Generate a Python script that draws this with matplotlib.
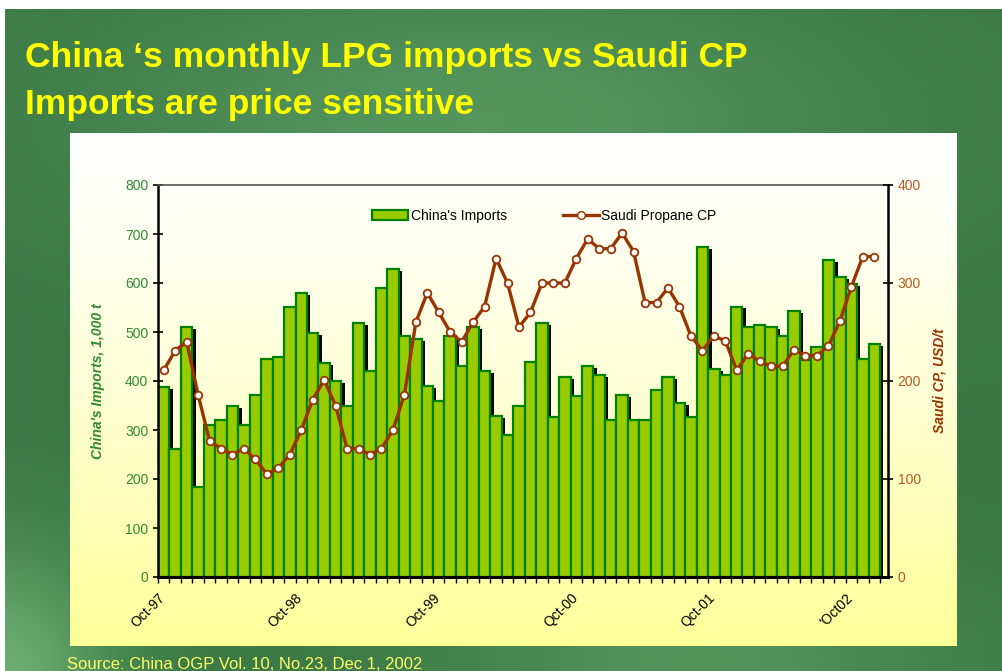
import numpy as np
import matplotlib.pyplot as plt
from matplotlib.lines import Line2D
from matplotlib.patches import Patch

# monthly data, Oct-97 .. Dec-02 (63 months)
imports = [388, 261, 511, 184, 311, 320, 348, 311, 372, 445, 449, 552, 579, 498, 436, 400,
           348, 519, 421, 589, 629, 491, 485, 389, 360, 491, 430, 511, 421, 328, 290, 348,
           438, 519, 326, 408, 370, 430, 413, 320, 372, 320, 320, 381, 408, 356, 326, 673,
           424, 413, 552, 511, 515, 511, 491, 543, 443, 470, 646, 613, 598, 445, 475]
saudi_cp = [211, 231, 240, 186, 139, 131, 125, 131, 120, 105, 111, 125, 150, 181, 201, 175,
            131, 131, 125, 131, 150, 186, 260, 290, 270, 250, 240, 260, 276, 325, 300, 255,
            270, 300, 300, 300, 325, 345, 335, 335, 351, 332, 280, 280, 295, 276, 246, 231,
            246, 241, 211, 228, 220, 215, 215, 232, 226, 226, 236, 261, 296, 327, 327]
tick_months = [0, 12, 24, 36, 48, 60]
tick_labels = ['Oct-97', 'Oct-98', 'Oct-99', 'Qct-00', 'Qct-01', "'Oct02"]

W, H = 1002, 671
fig = plt.figure(figsize=(W / 100, H / 100), dpi=100)
plt.rcParams['font.family'] = ['Liberation Sans', 'DejaVu Sans']

# green slide background
bg = fig.add_axes([0, 0, 1, 1])
yy, xx = np.mgrid[0:H, 0:W]
base = np.array([0.23, 0.47, 0.27])
light = np.array([0.42, 0.68, 0.45])
glow = (0.55 * np.exp(-(((xx - 480) / 380) ** 2 + ((yy - 120) / 140) ** 2))
        + 0.5 * np.exp(-(((xx - 700) / 250) ** 2 + ((yy - 660) / 80) ** 2))
        + 1.0 * np.exp(-(((xx - 0) / 110) ** 2 + ((yy - 680) / 130) ** 2)))
glow = np.clip(glow, 0, 1)[..., None]
img = base * (1 - glow) + light * glow
img[:9, :] = 1.0
img[:, :5] = 1.0
bg.imshow(img, aspect='auto', extent=[0, W, H, 0])
bg.set_xlim(0, W)
bg.set_ylim(H, 0)
bg.axis('off')

# yellow panel
px0, py0, px1, py1 = 70, 133, 957, 646
panel = fig.add_axes([px0 / W, 1 - py1 / H, (px1 - px0) / W, (py1 - py0) / H])
t = np.linspace(0, 1, 256) ** 1.3
grad = np.ones((256, 1, 3))
grad[:, 0, 2] = 1 - 0.4 * t
panel.imshow(grad, aspect='auto', extent=[0, 1, 0, 1], origin='upper')
panel.axis('off')

# titles
fig.text(25 / W, 1 - 67 / H, "China \u2018s monthly LPG imports vs Saudi CP",
         color='#FFFF00', fontsize=25.5, fontweight='bold', va='baseline', ha='left')
fig.text(25 / W, 1 - 114 / H, "Imports are price sensitive",
         color='#FFFF00', fontsize=25.5, fontweight='bold', va='baseline', ha='left')
fig.text(67 / W, 1 - 669 / H, "Source: China OGP Vol. 10, No.23, Dec 1, 2002",
         color='#FFFF66', fontsize=12, va='baseline', ha='left')

# main chart
ax = fig.add_axes([158 / W, 1 - 577 / H, 730 / W, 392 / H])
ax.set_facecolor('none')
x = np.arange(len(imports))
ax.bar(x + 0.3, np.array(imports) - 4, width=1.0, color='black', zorder=1)
ax.bar(x, imports, width=1.0, color='#99CC00', edgecolor='#008000', linewidth=1.6, zorder=2)
ax.set_xlim(-0.5, len(imports) + 0.2)
ax.set_ylim(0, 800)
ax.set_yticks(range(0, 801, 100))
ax.tick_params(axis='y', colors='black', labelcolor='#2E8B2E', direction='inout',
               length=7, width=1.2, labelsize=10)
ax.set_xticks([m - 0.5 for m in tick_months])
ax.set_xticklabels(tick_labels, rotation=45, ha='right', va='top', fontsize=10,
                   rotation_mode='anchor')
ax.set_xticks(np.arange(-0.5, len(imports), 1), minor=True)
ax.tick_params(axis='x', which='both', direction='out', length=4, width=1.0, pad=6)
ax.set_ylabel("China's Imports, 1,000 t", color='#2E8B2E', fontsize=10,
              fontweight='bold', fontstyle='italic', labelpad=14)
ax.spines['bottom'].set_linewidth(2.2)
ax.spines['left'].set_linewidth(1.8)
ax.spines['top'].set_color('#555555')
ax.spines['top'].set_linewidth(1.2)

ax2 = ax.twinx()
ax2.plot(x, saudi_cp, color='#993300', linewidth=2.4, marker='o', markersize=5.5,
         markerfacecolor='white', markeredgecolor='#993300', markeredgewidth=1.3)
ax2.set_ylim(0, 400)
ax2.set_yticks(range(0, 401, 100))
ax2.tick_params(axis='y', colors='black', labelcolor='#B8581F', direction='inout',
                length=7, width=1.2, labelsize=10)
ax2.set_ylabel("Saudi CP, USD/t", color='#993300', fontsize=10,
               fontweight='bold', fontstyle='italic', labelpad=8)
ax2.spines['right'].set_linewidth(1.8)
ax2.spines['top'].set_visible(False)
ax2.spines['left'].set_visible(False)
ax2.spines['bottom'].set_visible(False)

handles = [Patch(facecolor='#99CC00', edgecolor='#008000', linewidth=1.6),
           Line2D([], [], color='#993300', linewidth=2.4, marker='o', markersize=5.5,
                  markerfacecolor='white', markeredgecolor='#993300')]
ax2.legend(handles, ["China's Imports", 'Saudi Propane CP'], ncol=2, frameon=False,
           loc='center left', bbox_to_anchor=((372 - 158) / 730, (577 - 216) / 392),
           fontsize=10, handlelength=2.6, handleheight=0.8, handletextpad=0.2,
           columnspacing=4.0, borderaxespad=0, borderpad=0)

fig.savefig('out.png', dpi=100)
